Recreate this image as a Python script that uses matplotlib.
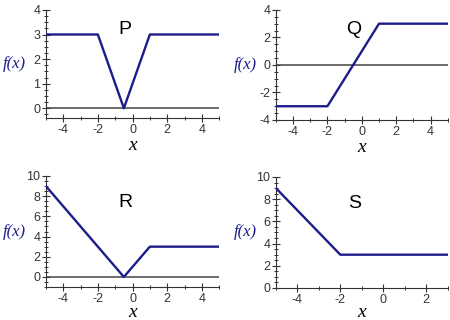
import numpy as np
import matplotlib.pyplot as plt
from matplotlib.ticker import MultipleLocator

# piecewise functions (vertex points)
p_x = [-5, -2, -0.5, 1, 5]
p_y = [3, 3, 0, 3, 3]
q_x = [-5, -2, 1, 5]
q_y = [-3, -3, 3, 3]
r_x = [-5, -0.5, 1, 5]
r_y = [9, 0, 3, 3]
s_x = [-5, -2, 3]
s_y = [9, 3, 3]

names = ["P", "Q", "R", "S"]
xs = [p_x, q_x, r_x, s_x]
ys = [p_y, q_y, r_y, s_y]
xlims = [(-5, 5), (-5, 5), (-5, 5), (-5, 3)]
ylims = [(-0.4, 4), (-4, 4), (-1, 10), (0, 10)]
ymajor = [1, 2, 2, 2]
yminor = [0.25, 0.5, 0.5, 0.5]

# axes rectangles [left, bottom, width, height]
rects = [[0.102, 0.631, 0.385, 0.338],
         [0.613, 0.625, 0.382, 0.344],
         [0.102, 0.103, 0.385, 0.347],
         [0.613, 0.100, 0.382, 0.347]]
title_pos = [(0.457, 0.815), (0.45, 0.82), (0.457, 0.76), (0.46, 0.76)]
xlab_y = [-0.25, -0.25, -0.225, -0.225]

NAVY = "#1c1c8a"

plt.rcParams['font.family'] = ['Liberation Sans', 'DejaVu Sans']
plt.rcParams['axes.unicode_minus'] = False
fig = plt.figure(figsize=(4.5, 3.2), dpi=100)

for i in range(4):
    ax = fig.add_axes(rects[i])
    ax.plot(xs[i], ys[i], color=NAVY, lw=1.7, zorder=3)
    ax.set_xlim(*xlims[i])
    ax.set_ylim(*ylims[i])
    if ylims[i][0] < 0:
        ax.axhline(0, color="#444444", lw=1.1, zorder=2)
    ax.spines['top'].set_visible(False)
    ax.spines['right'].set_visible(False)
    ax.spines['left'].set_color("#333333")
    ax.spines['bottom'].set_color("#333333")
    ax.spines['left'].set_linewidth(0.8)
    ax.spines['bottom'].set_linewidth(0.8)
    ax.xaxis.set_major_locator(MultipleLocator(2))
    ax.xaxis.set_minor_locator(MultipleLocator(1))
    ax.yaxis.set_major_locator(MultipleLocator(ymajor[i]))
    ax.yaxis.set_minor_locator(MultipleLocator(yminor[i]))
    ax.tick_params(which='major', direction='inout', length=6, width=0.8,
                   labelsize=9, colors="#333333", pad=1)
    ax.tick_params(which='minor', direction='inout', length=3, width=0.7,
                   colors="#333333")
    ax.set_ylabel("f(x)", family=['Liberation Serif', 'DejaVu Serif'], style='italic',
                  fontsize=12, color=NAVY, rotation=0, ha='center', va='center')
    ax.yaxis.set_label_coords(-0.18, 0.5)
    ax.set_xlabel("x", family=['Liberation Serif', 'DejaVu Serif'], style='italic',
                  fontsize=14, color="black", va='center')
    ax.xaxis.set_label_coords(0.5, xlab_y[i])
    ax.text(title_pos[i][0], title_pos[i][1], names[i], transform=ax.transAxes,
            fontsize=14, ha='center', va='center', color="black")

fig.savefig("out.png", dpi=100)
